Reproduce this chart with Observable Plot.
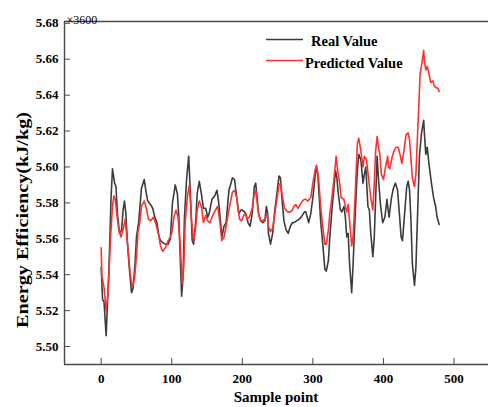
<!DOCTYPE html>
<html><head><meta charset="utf-8">
<script src="https://cdn.jsdelivr.net/npm/d3@7"></script>
<script src="https://cdn.jsdelivr.net/npm/@observablehq/plot@0.6"></script>
<style>body{margin:0;background:#fff;overflow:hidden} #chart{width:488px;height:407px;overflow:hidden} #chart svg{max-width:none}</style>
</head><body><div id="chart"></div>
<script>
const seriesNames = ["Real Value", "Predicted Value"];
const realX = [0,2,4,7,11,14,16,19,21,23,26,29,31,33,35,37,40,43,45,48,50,53,55,57,61,64,66,70,73,76,79,82,84,87,91,95,98,101,105,108,110,112,114,116,118,121,124,126,129,131,134,136,139,142,145,148,151,153,157,161,164,166,169,171,174,177,181,184,186,189,192,195,198,200,203,205,208,211,214,217,219,220,223,226,229,232,234,236,237,240,243,246,249,252,254,256,259,262,265,268,271,273,277,281,285,288,290,292,294,297,300,303,305,307,309,311,314,317,319,322,324,327,330,332,334,336,339,341,344,346,348,350,352,355,357,360,363,365,368,371,373,375,378,380,382,385,387,389,391,393,396,399,402,405,406,408,411,414,417,420,423,425,427,430,433,435,437,439,441,444,446,448,451,454,457,458,460,462,465,468,471,474,476,479];
const realY = [5.544,5.526,5.525,5.506,5.543,5.583,5.599,5.591,5.589,5.574,5.563,5.565,5.576,5.581,5.574,5.559,5.543,5.530,5.532,5.546,5.561,5.569,5.578,5.588,5.593,5.585,5.581,5.579,5.577,5.572,5.569,5.561,5.559,5.558,5.557,5.557,5.560,5.580,5.590,5.585,5.572,5.550,5.528,5.539,5.572,5.593,5.606,5.589,5.559,5.557,5.570,5.585,5.592,5.585,5.577,5.577,5.572,5.574,5.582,5.584,5.587,5.582,5.570,5.561,5.567,5.569,5.587,5.591,5.594,5.593,5.583,5.574,5.576,5.576,5.575,5.574,5.569,5.567,5.574,5.589,5.591,5.587,5.574,5.570,5.569,5.570,5.578,5.574,5.563,5.557,5.563,5.576,5.585,5.595,5.594,5.583,5.570,5.565,5.563,5.567,5.569,5.569,5.570,5.571,5.573,5.575,5.575,5.572,5.569,5.574,5.583,5.594,5.600,5.596,5.583,5.570,5.557,5.543,5.542,5.548,5.561,5.576,5.589,5.598,5.594,5.585,5.576,5.575,5.578,5.572,5.561,5.563,5.546,5.530,5.546,5.574,5.598,5.607,5.604,5.591,5.596,5.600,5.578,5.576,5.563,5.550,5.561,5.583,5.606,5.593,5.578,5.569,5.572,5.582,5.578,5.572,5.582,5.588,5.591,5.587,5.572,5.561,5.559,5.574,5.589,5.592,5.587,5.570,5.546,5.534,5.544,5.569,5.606,5.619,5.626,5.619,5.607,5.611,5.600,5.591,5.583,5.578,5.572,5.568];
const predX = [0,1,4,7,10,13,16,18,20,22,25,28,31,34,35,38,41,44,47,50,52,55,57,61,64,67,70,74,77,81,84,87,91,95,98,100,103,106,109,112,115,117,119,122,125,128,131,134,136,139,142,145,148,151,154,158,162,165,168,171,174,177,181,184,186,189,192,196,199,202,204,207,210,214,217,219,220,223,226,229,232,235,237,240,243,246,249,252,254,257,260,264,268,271,273,276,279,282,285,288,290,293,297,300,303,305,308,311,314,317,319,322,324,327,330,333,335,338,340,344,346,348,350,352,355,357,360,363,365,368,371,373,376,379,382,385,387,389,391,393,395,397,400,403,406,407,409,412,415,418,421,424,426,429,432,435,437,439,441,444,446,448,450,452,455,457,458,460,462,464,467,470,472,475,477,479];
const predY = [5.555,5.539,5.533,5.520,5.531,5.559,5.578,5.584,5.582,5.574,5.565,5.561,5.565,5.571,5.567,5.554,5.541,5.533,5.537,5.550,5.563,5.570,5.578,5.581,5.577,5.571,5.570,5.572,5.569,5.563,5.556,5.553,5.555,5.559,5.561,5.563,5.572,5.576,5.572,5.556,5.535,5.544,5.569,5.583,5.590,5.570,5.559,5.567,5.576,5.581,5.578,5.569,5.573,5.570,5.569,5.573,5.576,5.578,5.570,5.559,5.561,5.567,5.576,5.582,5.586,5.587,5.583,5.571,5.570,5.573,5.574,5.571,5.572,5.577,5.585,5.587,5.584,5.574,5.570,5.570,5.571,5.574,5.567,5.564,5.566,5.574,5.582,5.590,5.591,5.583,5.577,5.575,5.575,5.576,5.578,5.579,5.577,5.579,5.581,5.582,5.582,5.581,5.583,5.591,5.598,5.601,5.594,5.578,5.567,5.557,5.557,5.565,5.574,5.583,5.594,5.606,5.598,5.591,5.583,5.582,5.578,5.575,5.579,5.570,5.556,5.561,5.585,5.613,5.616,5.609,5.600,5.606,5.604,5.593,5.583,5.576,5.591,5.609,5.617,5.611,5.607,5.596,5.593,5.600,5.606,5.600,5.599,5.605,5.609,5.611,5.611,5.606,5.602,5.609,5.618,5.619,5.615,5.604,5.594,5.589,5.596,5.615,5.633,5.652,5.659,5.665,5.659,5.654,5.656,5.653,5.647,5.648,5.645,5.644,5.644,5.642];
const xTicks = [0, 100, 200, 300, 400, 500];
const yTicks = [5.50, 5.52, 5.54, 5.56, 5.58, 5.60, 5.62, 5.64, 5.66, 5.68];
const xDomain = [-52, 575.8];
const yDomain = [5.49, 5.681];
const axisTitleX = "Sample point";
const axisTitleY = "Energy Efficiency(kJ/kg)";
const multiplier = "×3600";

const real = realX.map((x, i) => ({x, y: realY[i]}));
const pred = predX.map((x, i) => ({x, y: predY[i]}));

const frameColor = "#4a4a4a";
const realColor = "#3c3c3c";
const predColor = "#ff3030";
const font = "'Liberation Serif', 'Times New Roman', serif";

// frame extends past the visible right edge (clipped by the container), like the reference
const chart = Plot.plot({
  width: 540, height: 407,
  marginLeft: 64, marginRight: 33, marginTop: 21, marginBottom: 43,
  x: {domain: xDomain},
  y: {domain: yDomain},
  style: {fontFamily: font, fontWeight: "bold", fontSize: "13px", color: "#000", background: "#fff"},
  marks: [
    Plot.ruleX([xDomain[0]], {stroke: frameColor, strokeWidth: 1.4}),
    Plot.ruleY(yDomain, {stroke: frameColor, strokeWidth: 1.4}),
    Plot.line(real, {x: "x", y: "y", stroke: realColor, strokeWidth: 1.6}),
    Plot.line(pred, {x: "x", y: "y", stroke: predColor, strokeWidth: 1.6}),
    Plot.axisX(xTicks, {tickSize: -6, tickPadding: 15, label: null, stroke: frameColor, fill: "#000"}),
    Plot.axisY(yTicks, {tickSize: -6, tickPadding: 12, tickFormat: d3.format(".2f"), label: null, stroke: frameColor, fill: "#000"}),
    Plot.text([multiplier], {frameAnchor: "top-left", textAnchor: "start", dx: 2, dy: -6, fontSize: 12, fontWeight: "normal", fill: "#000"})
  ]
});
document.getElementById("chart").appendChild(chart);

const svg = d3.select(chart);
// x axis title, centred on the visible part of the frame
svg.append("text")
  .attr("x", 276).attr("y", 397).attr("dy", "0.35em").attr("text-anchor", "middle")
  .attr("font-family", font).attr("font-weight", "bold").attr("font-size", 15)
  .attr("fill", "#000").text(axisTitleX);
// y axis title
svg.append("text")
  .attr("transform", "translate(22,220) rotate(-90)")
  .attr("text-anchor", "middle").attr("dy", "0.35em")
  .attr("font-family", font).attr("font-weight", "bold").attr("font-size", 16)
  .attr("textLength", 216).attr("lengthAdjust", "spacingAndGlyphs")
  .attr("fill", "#000").text(axisTitleY);
// legend
const leg = svg.append("g").attr("font-family", font).attr("font-weight", "bold").attr("font-size", 14.5).attr("text-anchor", "start");
const legItems = [
  {name: seriesNames[0], color: realColor, ly: 39.5, tx: 311, ty: 41},
  {name: seriesNames[1], color: predColor, ly: 60.5, tx: 305, ty: 63}
];
legItems.forEach(d => {
  leg.append("line").attr("x1", 266).attr("x2", 303).attr("y1", d.ly).attr("y2", d.ly)
    .attr("stroke", d.color).attr("stroke-width", 1.6);
  leg.append("text").attr("x", d.tx).attr("y", d.ty).attr("dy", "0.35em").attr("fill", "#000").text(d.name);
});
</script>
</body></html>
